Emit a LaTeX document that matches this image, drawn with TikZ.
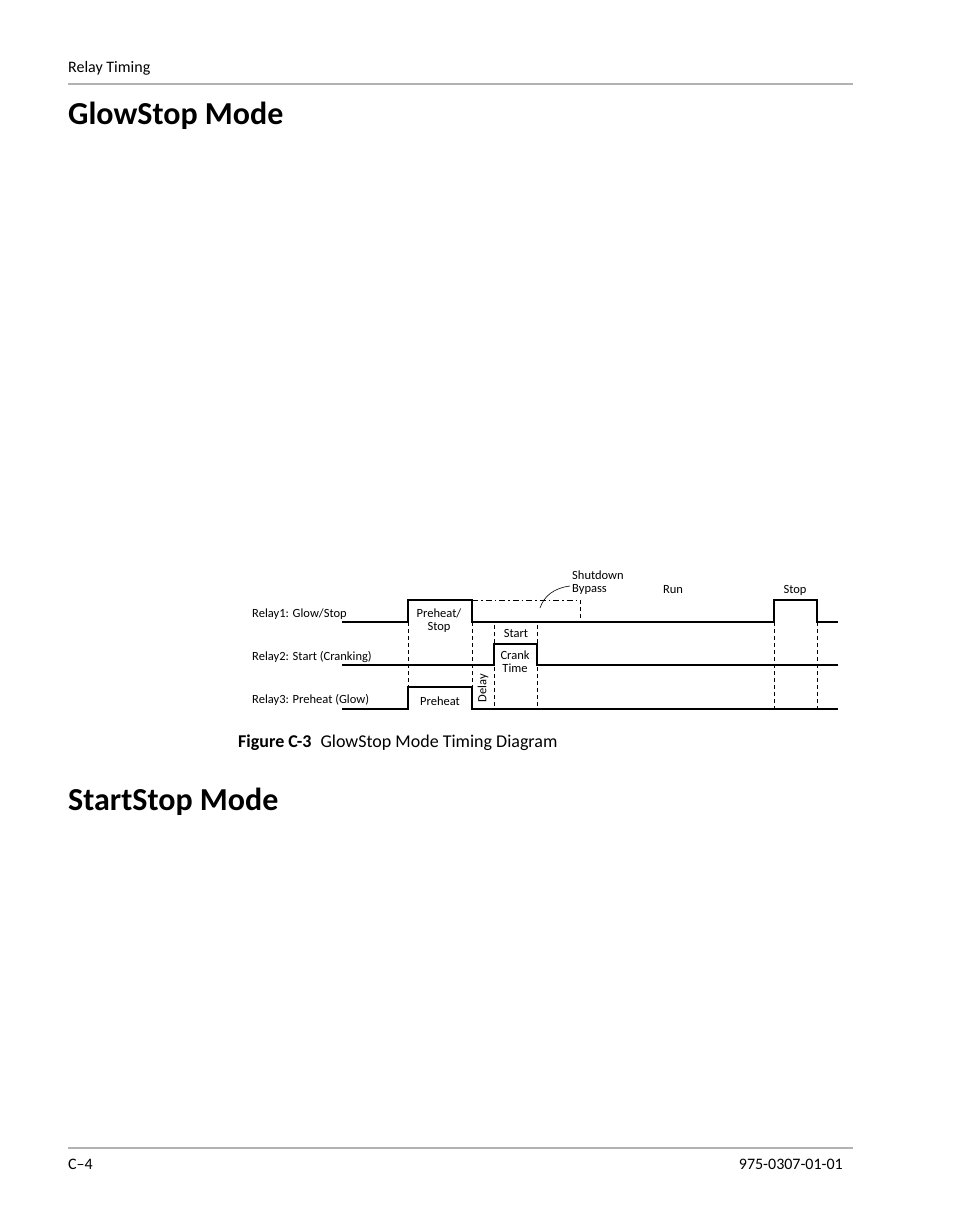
\documentclass[tikz,border=0pt]{standalone}
\usepackage{fontspec}
\setmainfont{Carlito}
\begin{document}
\begin{tikzpicture}[x=1pt,y=-1pt,
  sig/.style={line width=1.6pt},
  vd/.style={dashed,line width=0.6pt,dash pattern=on 4pt off 3pt},
  lab/.style={font=\fontsize{12.5}{13}\selectfont,inner sep=0pt},
  rule/.style={line width=2.5pt,color=black!30}]
\useasboundingbox (0,0) rectangle (954,1227);
\node[anchor=base west,inner sep=0pt,font=\fontsize{16}{18}\selectfont] (hdr) at (68,72) {Relay Timing};
\draw[rule] (68,84) -- (853,84);
\node[anchor=base west,inner sep=0pt,font=\fontsize{32}{34}\selectfont\bfseries] (t1) at (68,124) {GlowStop Mode};
\node[anchor=base west,inner sep=0pt,font=\fontsize{32}{34}\selectfont\bfseries] (t2) at (68,810) {StartStop Mode};
\node[anchor=base west,inner sep=0pt,font=\fontsize{18}{20}\selectfont] (cap) at (238,747) {\textbf{Figure C-3}\enspace GlowStop Mode Timing Diagram};
\draw[rule] (68,1148) -- (853,1148);
\node[anchor=base west,inner sep=0pt,font=\fontsize{16}{18}\selectfont] (pg) at (68,1169) {C–4};
\node[anchor=base east,inner sep=0pt,font=\fontsize{16}{18}\selectfont] (doc) at (843,1169) {975-0307-01-01};
% labels
\node[lab,anchor=base west] (r1) at (252,617) {Relay1: Glow/Stop};
\node[lab,anchor=base west] (r2) at (252,660) {Relay2: Start (Cranking)};
\node[lab,anchor=base west] (r3) at (252,703) {Relay3: Preheat (Glow)};
% signals
\draw[sig] (342,622) -- (408,622) -- (408,600) -- (472,600) -- (472,622) -- (774,622) -- (774,600) -- (817,600) -- (817,622) -- (838,622);
\draw[sig] (342,665) -- (494,665) -- (494,644) -- (537,644) -- (537,665) -- (838,665);
\draw[sig] (342,709) -- (408,709) -- (408,687) -- (472,687) -- (472,709) -- (838,709);
% dashed
\draw[line width=0.6pt,dash pattern=on 6pt off 3pt on 1.5pt off 3pt] (472,600) -- (580,600);
\draw[vd] (580,600) -- (580,622);
\draw[vd] (408,622) -- (408,687);
\draw[vd] (472,622) -- (472,687);
\draw[vd] (494,625) -- (494,709);
\draw[vd] (537,625) -- (537,709);
\draw[vd] (774,622) -- (774,709);
\draw[vd] (817,622) -- (817,709);
% texts
\node[lab,align=center] (ps) at (439,621) {Preheat/\\Stop};
\node[lab] (st) at (516,633) {Start};
\node[lab,align=center] (ct) at (515,662) {Crank\\Time};
\node[lab] (ph) at (440,701) {Preheat};
\node[lab,rotate=90] (dl) at (483,688) {Delay};
\node[lab] (run) at (673,590) {Run};
\node[lab] (stp) at (795,590) {Stop};
\node[lab,align=left,anchor=west] (sb) at (572,583) {Shutdown\\Bypass};
\draw[line width=0.6pt] (540,608) .. controls (544,596) and (554,588) .. (570,586);
\end{tikzpicture}
\end{document}
